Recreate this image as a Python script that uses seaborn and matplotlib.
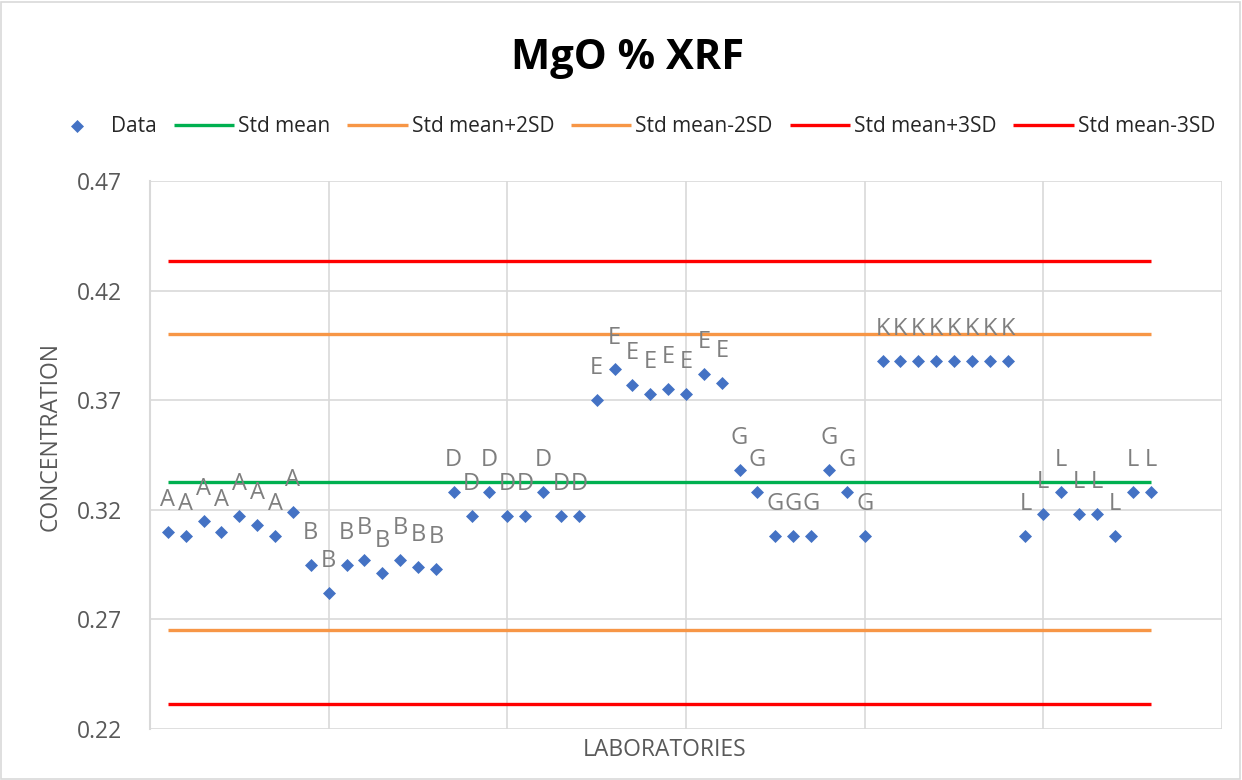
import matplotlib
matplotlib.use("Agg")
import matplotlib.pyplot as plt
import seaborn as sns
import pandas as pd
from matplotlib.patches import Rectangle

#  Data 
# One row per measurement, grouped by laboratory (8 results each).
lab_codes = (["A"] * 8 + ["B"] * 8 + ["D"] * 8 + ["E"] * 8
             + ["G"] * 8 + ["K"] * 8 + ["L"] * 8)

mgo_values = [
    0.310, 0.308, 0.315, 0.310, 0.317, 0.313, 0.308, 0.319,   # A
    0.295, 0.282, 0.295, 0.297, 0.291, 0.297, 0.294, 0.293,   # B
    0.328, 0.317, 0.328, 0.317, 0.317, 0.328, 0.317, 0.317,   # D
    0.370, 0.384, 0.377, 0.373, 0.375, 0.373, 0.382, 0.378,   # E
    0.338, 0.328, 0.308, 0.308, 0.308, 0.338, 0.328, 0.308,   # G
    0.388, 0.388, 0.388, 0.388, 0.388, 0.388, 0.388, 0.388,   # K
    0.308, 0.318, 0.328, 0.318, 0.318, 0.308, 0.328, 0.328,   # L
]

# Control limits of the standard
std_mean = 0.3325
std_plus_2sd = 0.400
std_minus_2sd = 0.265
std_plus_3sd = 0.4335
std_minus_3sd = 0.2315

ref_lines = [
    ("Std mean",     std_mean,      "#00B050"),
    ("Std mean+2SD", std_plus_2sd,  "#F79646"),
    ("Std mean-2SD", std_minus_2sd, "#F79646"),
    ("Std mean+3SD", std_plus_3sd,  "#FF0000"),
    ("Std mean-3SD", std_minus_3sd, "#FF0000"),
]

y_ticks = [0.22, 0.27, 0.32, 0.37, 0.42, 0.47]
n_categories = 60

#  Setup 
sns.set_style("white")
plt.rcParams["font.family"] = ["Open Sans", "DejaVu Sans"]

GREY_TEXT = "#595959"
GRID = "#D9D9D9"


def plot_control_chart():
    df = pd.DataFrame({"lab": lab_codes, "value": mgo_values})
    df["position"] = range(1, len(df) + 1)

    fig = plt.figure(figsize=(12.42, 7.8), dpi=100)
    ax = fig.add_axes([0.1208, 0.0654, 0.8631, 0.7026])

    # measurement points
    sns.scatterplot(data=df, x="position", y="value", marker="D", s=44,
                    color="#4472C4", linewidth=0, label="Data", ax=ax, zorder=4)

    # lab letter above each point
    for _, row in df.iterrows():
        ax.annotate(row["lab"], (row["position"], row["value"]),
                    xytext=(0, 23), textcoords="offset points",
                    ha="center", va="center", fontsize=17, color="#7F7F7F",
                    zorder=5)

    # horizontal control lines spanning the data
    x0, x1 = df["position"].iloc[0], df["position"].iloc[-1]
    for name, val, col in ref_lines:
        ax.plot([x0, x1], [val, val], color=col, linewidth=2.4,
                label=name, zorder=3, solid_capstyle="butt")

    ax.set_xlim(0, n_categories)
    ax.set_ylim(y_ticks[0], y_ticks[-1])
    ax.set_yticks(y_ticks)
    ax.set_yticklabels([f"{t:.2f}" for t in y_ticks])
    ax.set_xticks([])

    # excel-like gridlines
    for t in y_ticks:
        ax.axhline(t, color=GRID, linewidth=1.2, zorder=1)
    for b in range(10, n_categories + 1, 10):
        ax.axvline(b, color=GRID, linewidth=1.2, zorder=1)

    for side in ["top", "right", "bottom"]:
        ax.spines[side].set_visible(False)
    ax.spines["left"].set_color(GRID)
    ax.spines["left"].set_linewidth(1.5)

    ax.tick_params(axis="y", length=6, width=1.2, color=GRID,
                   labelsize=16.5, labelcolor=GREY_TEXT, pad=14)

    ax.set_xlabel("LABORATORIES", fontsize=16.5, color=GREY_TEXT)
    ax.set_ylabel("CONCENTRATION", fontsize=16.5, color=GREY_TEXT)
    ax.xaxis.set_label_coords(0.48, -0.038)
    ax.yaxis.set_label_coords(-0.093, 0.533)
    ax.xaxis.label.set_va("center")
    ax.yaxis.label.set_va("center")

    ax.get_legend().remove()
    handles, labels = ax.get_legend_handles_labels()
    fig.legend(handles, labels, loc="center", bbox_to_anchor=(0.508, 0.838),
               ncol=6, frameon=False, fontsize=15, handlelength=2.9,
               handletextpad=0.2, columnspacing=0.8, markerscale=1.0)

    fig.text(0.505, 0.925, "MgO % XRF", ha="center", va="center",
             fontsize=30, fontweight="bold", color="black")

    # thin border around the whole chart area
    fig.patches.append(Rectangle((0.001, 0.001), 0.997, 0.997,
                                 transform=fig.transFigure, fill=False,
                                 edgecolor=GRID, linewidth=1.2))

    fig.savefig("out.png", dpi=100)
    plt.close(fig)
    print("Saved: out.png")


if __name__ == "__main__":
    plot_control_chart()
